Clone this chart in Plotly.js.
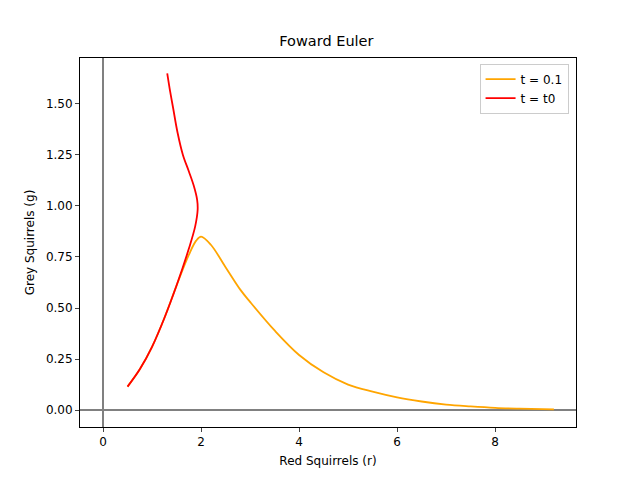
<!DOCTYPE html>
<html>
<head>
<script src="https://cdn.plot.ly/plotly-3.0.1.min.js"></script>
</head>
<body style="margin:0">
<div id="chart" style="width:640px;height:480px"></div>
<script>
var orangeR = [0.5, 0.75, 1.0, 1.25, 1.5, 1.75, 1.9, 2.0, 2.2, 2.5, 2.8, 3.0, 3.5, 4.0, 4.5, 5.0, 5.5, 6.0, 6.5, 7.0, 7.5, 8.0, 8.5, 9.2];
var orangeG = [0.115, 0.2, 0.31, 0.45, 0.61, 0.76, 0.83, 0.85, 0.81, 0.70, 0.59, 0.53, 0.39, 0.27, 0.185, 0.125, 0.09, 0.062, 0.042, 0.027, 0.018, 0.011, 0.007, 0.003];
var redR = [0.5, 0.75, 1.0, 1.25, 1.5, 1.75, 1.88, 1.93, 1.92, 1.85, 1.75, 1.63, 1.52, 1.43, 1.37, 1.31];
var redG = [0.115, 0.2, 0.31, 0.45, 0.61, 0.79, 0.9, 0.98, 1.03, 1.1, 1.17, 1.25, 1.36, 1.48, 1.56, 1.65];

var data = [
    {x: orangeR, y: orangeG, mode: 'lines', name: 't = 0.1', line: {color: 'orange', width: 1.8, shape: 'spline'}},
    {x: redR, y: redG, mode: 'lines', name: 't = t0', line: {color: 'red', width: 1.8, shape: 'spline'}}
];

var layout = {
    width: 640, height: 480,
    margin: {l: 80, r: 64, t: 58, b: 53},
    paper_bgcolor: 'white', plot_bgcolor: 'white',
    font: {family: 'DejaVu Sans', size: 12, color: 'black'},
    title: {text: 'Foward Euler', x: 0.51, y: 0.925, font: {size: 14.5}},
    showlegend: true,
    legend: {x: 0.985, y: 0.985, xanchor: 'right', yanchor: 'top', bordercolor: '#ccc', borderwidth: 1, font: {size: 12}},
    xaxis: {range: [-0.47, 9.65], tickvals: [0, 2, 4, 6, 8], showgrid: false, zeroline: true, zerolinecolor: 'grey', zerolinewidth: 1.5,
        showline: true, mirror: true, linecolor: 'black', ticks: 'outside', ticklen: 4,
        title: {text: 'Red Squirrels (r)', font: {size: 12}, standoff: 8}},
    yaxis: {range: [-0.083, 1.725], tickvals: [0, 0.25, 0.5, 0.75, 1, 1.25, 1.5], tickformat: '.2f', showgrid: false, zeroline: true, zerolinecolor: 'grey', zerolinewidth: 1.5,
        showline: true, mirror: true, linecolor: 'black', ticks: 'outside', ticklen: 4,
        title: {text: 'Grey Squirrels (g)', font: {size: 12}, standoff: 8}}
};

Plotly.newPlot('chart', data, layout, {displayModeBar: false});
</script>
</body>
</html>
